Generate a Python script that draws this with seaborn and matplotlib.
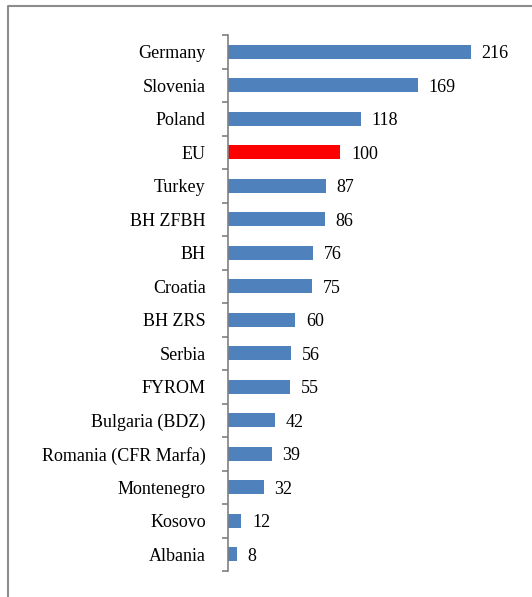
import numpy as np
import matplotlib.pyplot as plt
import seaborn as sns
import pandas as pd
from matplotlib.lines import Line2D

# values
countries = ["Germany", "Slovenia", "Poland", "EU", "Turkey", "BH ZFBH", "BH",
             "Croatia", "BH ZRS", "Serbia", "FYROM", "Bulgaria (BDZ)",
             "Romania (CFR Marfa)", "Montenegro", "Kosovo", "Albania"]
values = [216, 169, 118, 100, 87, 86, 76, 75, 60, 56, 55, 42, 39, 32, 12, 8]
bar_colors = ["#FF0000" if c == "EU" else "#4F81BD" for c in countries]

df = pd.DataFrame({"country": countries, "value": values})

sns.set_style("white")
plt.rcParams['font.family'] = ['Liberation Serif', 'DejaVu Serif']

fig = plt.figure(figsize=(5.32, 5.97), dpi=100)
ax = fig.add_axes([228 / 532, 1 - 571 / 597, 292 / 532, 536 / 597])

sns.barplot(data=df, x="value", y="country", hue="country", palette=bar_colors,
            legend=False, width=0.42, ax=ax, linewidth=0, saturation=1)

for i, v in enumerate(values):
    ax.text(v + 9.5, i + 0.06, str(v), va="center", ha="left", fontsize=13, color="#000000")

ax.set_xlim(0, 260)
ax.set_ylim(len(countries) - 0.5, -0.5)
ax.set_xlabel("")
ax.set_ylabel("")
ax.set_xticks([])
for s in ["top", "right", "bottom"]:
    ax.spines[s].set_visible(False)
ax.spines["left"].set_color("#808080")
ax.spines["left"].set_linewidth(1.2)

# major ticks are just labels, minor ticks mark the category boundaries
ax.tick_params(axis="y", which="major", length=0, pad=16, labelsize=13, labelcolor="#000000")
ax.set_yticks(np.arange(-0.5, len(countries)), minor=True)
ax.tick_params(axis="y", which="minor", length=4, width=1.2, color="#808080", left=True)

# outer chart frame
fig.add_artist(Line2D([8 / 532, 8 / 532, 1.0], [0.0, 1 - 6 / 597, 1 - 6 / 597],
                      transform=fig.transFigure, color="#8c8c8c", linewidth=1.5))

fig.savefig("out.png", dpi=100)
